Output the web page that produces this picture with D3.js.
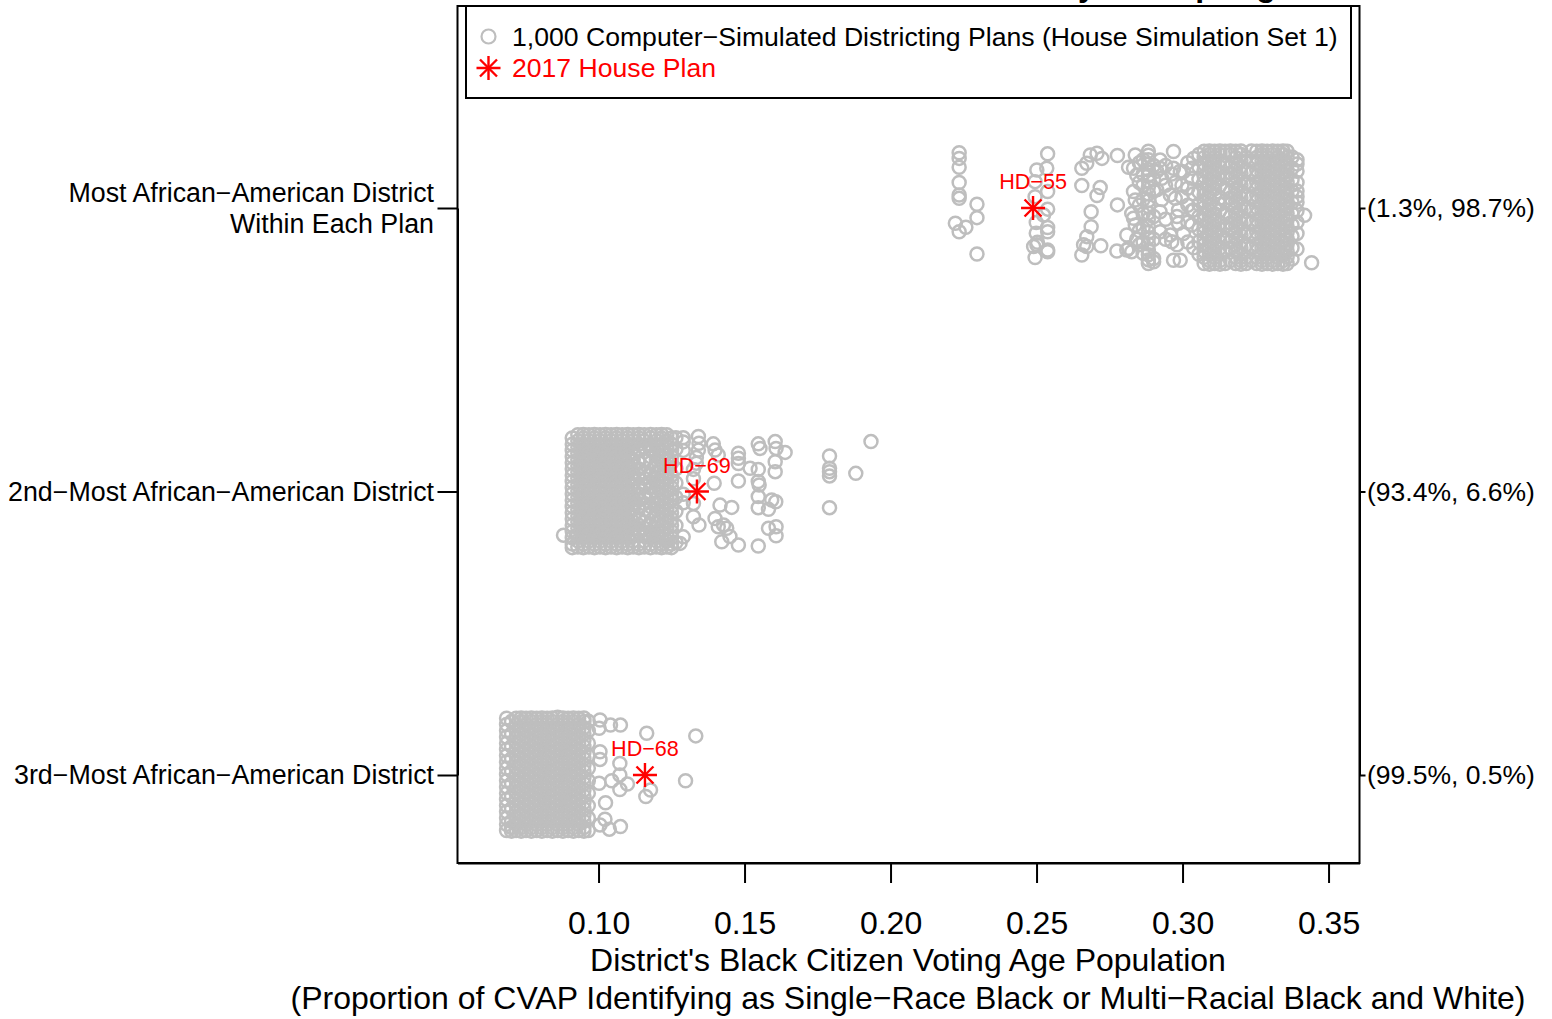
<!DOCTYPE html>
<html>
<head>
<meta charset="utf-8">
<script src="https://cdn.jsdelivr.net/npm/d3@7"></script>
<style>
  html, body { margin: 0; padding: 0; background: #fff; overflow: hidden; }
  text { font-family: "Liberation Sans", Arial, sans-serif; }
</style>
</head>
<body>
<svg id="chart" width="1552" height="1019"></svg>
<script>
// each entry: [black CVAP share, [row jitter in hundredths of a row]]
const mostPlans = [
  [.2222,[-5.4]],[.2235,[19.5,17.5,14.4,9,4.6,3.4,-8.4]],[.2258,[-6.8]],[.2296,[1.3,-3.4,-16.2]],
  [.2490,[-13.6]],[.2495,[9.3,4,-17.5]],[.2499,[-5.1,-8.9]],[.2501,[13.4,-13]],[.2503,[-12.1]],[.2524,[-2.5]],
  [.2535,[14]],[.2538,[19.1,5.8,-.4,-6.9,-8.4,-14.8,-15.4]],
  [.2655,[14,7.9,-16.6]],[.2661,[-13]],[.2672,[15.8,-10.1,-13.6]],[.2684,[18.7]],[.2687,[-1.3,-6.6]],
  [.2707,[19.3,4.4]],[.2718,[7.2]],[.2720,[-13.3]],[.2724,[17.5]],[.2775,[-15.2]],[.2777,[18.5,1.1]],
  [.2809,[-9.5,-14.8]],[.2815,[14.4,-14.2]],[.2826,[-1.9,-15.4]],[.2832,[14,5.8,-3.6]],[.2838,[18.7,2.8,-6]],[.2843,[11.6,-11]],
  [.2852,[16,9,1,-8,-13]],
  [.2865,[17,12,8,3,-2,-7,-12,-16]],
  [.2883,[20,18.6,17,15.4,13.5,11.5,9.6,7.4,5,2.6,.5,-1.8,-4,-6.4,-8.6,-10.5,-12.7,-14.8,-16.5,-18.3,-19.6]],
  [.2901,[15,10,6,-3,-11,-17.8,-19]],
  [.2912,[6.4,13]],[.2923,[16.9,14,-1.3,-8.4]],[.2929,[10.5,3]],[.2942,[15,8,-4,-11]],[.2958,[4.6,-9.5]],[.2963,[-11.9,12]],[.2969,[19.9,14,-18.4]],
  [.2975,[3.4,9]],[.2981,[-13,-3]],[.2986,[-.7,-5.4]],[.2992,[-18.4,13]],[.2998,[4,8]],[.3003,[12.8,-9]],[.3018,[16,7,1,-5,-12]],[.3032,[10.5,-6,14,-1]],[.3038,[17.5,-.7,5,-14]],
  [.3056,[18.9,14.5,10.1,5.7,1.3,-3.1,-7.5,-11.9,-16.3]],
  [.3074,[20,17.8,15.6,13.4,11.2,9,6.8,4.6,2.4,.2,-2,-4.2,-6.4,-8.6,-10.8,-13,-15.2,-17.4,-19.6]],
  [.3092,[20.1,18.9,16.7,14.5,12.3,10.1,7.9,5.7,3.5,1.3,-.9,-3.1,-5.3,-7.5,-9.7,-11.9,-14.1,-16.3,-18.5,-19.8]],
  [.3110,[20,17.8,15.6,13.4,11.2,9,6.8,4.6,.2,-2,-4.2,-6.4,-8.6,-10.8,-13,-15.2,-17.4,-19.6]],
  [.3128,[20.1,18.9,16.7,14.5,12.3,10.1,7.9,3.5,1.3,-.9,-5.3,-7.5,-9.7,-11.9,-14.1,-16.3,-18.5,-19.8]],
  [.3146,[20,15.6,11.2,6.8,2.4,-2,-6.4,-10.8,-15.2,-19.6]],
  [.3164,[20.1,18.9,14.5,12.3,10.1,5.7,3.5,1.3,-3.1,-5.3,-7.5,-11.9,-14.1,-18.5]],
  [.3182,[20,17.8,15.6,13.4,11.2,9,6.8,4.6,2.4,.2,-2,-4.2,-6.4,-8.6,-10.8,-13,-15.2,-17.4,-19.6]],
  [.3200,[20.1,18.9,16.7,14.5,12.3,10.1,7.9,5.7,3.5,1.3,-.9,-3.1,-5.3,-7.5,-9.7,-11.9,-14.1,-16.3,-18.5,-19.8]],
  [.3218,[17.8,13.4,9,4.6,.2,-4.2,-8.6,-13,-17.4,-19.6]],
  [.3236,[20.1,16.7,12.3,7.9,3.5,-.9,-5.3,-9.7,-14.1,-18.5]],
  [.3254,[20,17.8,15.6,13.4,11.2,9,6.8,4.6,2.4,.2,-2,-4.2,-6.4,-8.6,-10.8,-13,-15.2,-17.4,-19.6]],
  [.3272,[20.1,18.9,16.7,14.5,12.3,10.1,7.9,5.7,3.5,1.3,-.9,-3.1,-5.3,-7.5,-9.7,-11.9,-14.1,-16.3,-18.5,-19.8]],
  [.3290,[20,17.8,15.6,13.4,11.2,9,6.8,4.6,2.4,.2,-2,-4.2,-6.4,-8.6,-10.8,-13,-15.2,-17.4,-19.6]],
  [.3308,[20.1,18.9,16.7,14.5,12.3,10.1,7.9,5.7,3.5,1.3,-.9,-3.1,-5.3,-7.5,-9.7,-11.9,-14.1,-16.3,-18.5,-19.8]],
  [.3326,[20,17.8,15.6,13.4,11.2,9,6.8,4.6,2.4,.2,-2,-4.2,-6.4,-8.6,-10.8,-13,-15.2,-17.4,-19.6]],
  [.3344,[20.1,18.9,16.7,14.5,12.3,10.1,7.9,5.7,3.5,1.3,-.9,-3.1,-5.3,-7.5,-9.7,-11.9,-14.1,-16.3,-18.5,-19.8]],
  [.3358,[20,17.8,15.6,13.4,11.2,9,6.8,4.6,2.4,.2,-2,-4.2,-6.4,-8.6,-10.8,-13,-15.2,-17.4,-19.6]],
  [.3375,[18,14,10,6,2,-2,-6,-10,-14,-18]],
  [.3392,[17,15.5,13,9,6,4,2,-1,-5,-9,-14.5]],[.3418,[-2.6]],[.3442,[-19.3]]
];
const secondPlans = [
  [.0880,[-15.4]],
  [.0910,[18.9,16.7,14.5,12.3,10.1,7.9,5.7,3.5,1.3,-.9,-3.1,-5.3,-7.5,-9.7,-11.9,-14.1,-16.3,-18.5,-19.8]],
  [.0929,[20,17.8,15.6,13.4,11.2,9,6.8,4.6,2.4,.2,-2,-4.2,-6.4,-8.6,-10.8,-13,-15.2,-17.4,-19.6]],
  [.0948,[20.1,18.9,16.7,14.5,12.3,10.1,7.9,5.7,3.5,1.3,-.9,-3.1,-5.3,-7.5,-9.7,-11.9,-14.1,-16.3,-18.5,-19.8]],
  [.0967,[20,17.8,15.6,13.4,11.2,9,6.8,4.6,2.4,.2,-2,-4.2,-6.4,-8.6,-10.8,-13,-15.2,-17.4,-19.6]],
  [.0986,[20.1,18.9,16.7,14.5,12.3,10.1,7.9,5.7,3.5,1.3,-.9,-3.1,-5.3,-7.5,-9.7,-11.9,-14.1,-16.3,-18.5,-19.8]],
  [.1005,[20,17.8,15.6,13.4,11.2,9,6.8,4.6,2.4,.2,-2,-4.2,-6.4,-8.6,-10.8,-13,-15.2,-17.4,-19.6]],
  [.1024,[20.1,18.9,16.7,14.5,12.3,10.1,7.9,5.7,3.5,1.3,-.9,-3.1,-5.3,-7.5,-9.7,-11.9,-14.1,-16.3,-18.5,-19.8]],
  [.1043,[20,17.8,15.6,13.4,11.2,9,6.8,4.6,2.4,.2,-2,-4.2,-6.4,-8.6,-10.8,-13,-15.2,-17.4,-19.6]],
  [.1062,[20.1,18.9,16.7,14.5,12.3,10.1,7.9,5.7,3.5,1.3,-.9,-3.1,-5.3,-7.5,-9.7,-11.9,-14.1,-16.3,-18.5,-19.8]],
  [.1081,[20,17.8,15.6,13.4,11.2,9,6.8,4.6,2.4,.2,-2,-4.2,-6.4,-8.6,-10.8,-13,-15.2,-17.4,-19.6]],
  [.1100,[20.1,18.9,16.7,14.5,12.3,10.1,7.9,5.7,3.5,1.3,-.9,-3.1,-5.3,-7.5,-9.7,-11.9,-14.1,-16.3,-18.5,-19.8]],
  [.1119,[20,17.8,15.6,13.4,11.2,9,6.8,4.6,2.4,.2,-2,-4.2,-6.4,-8.6,-10.8,-13,-15.2,-17.4,-19.6]],
  [.1138,[20.1,18.9,16.7,14.5,10.1,7.9,5.7,1.3,-.9,-3.1,-5.3,-9.7,-11.9,-14.1,-18.5,-19.8]],
  [.1157,[20,17.8,15.6,11.2,6.8,4.6,2.4,-2,-4.2,-6.4,-10.8,-13,-15.2,-17.4,-19.6]],
  [.1178,[20.1,18.9,16.7,14.5,12.3,10.1,5.7,3.5,1.3,-.9,-5.3,-7.5,-11.9,-14.1,-16.3,-18.5,-19.8]],
  [.1198,[20,17.8,15.6,13.4,11.2,9,6.8,4.6,2.4,.2,-2,-4.2,-6.4,-8.6,-10.8,-13,-15.2,-17.4,-19.6]],
  [.1216,[20.1,18.9,16.7,14.5,12.3,10.1,7.9,5.7,3.5,1.3,-.9,-3.1,-5.3,-7.5,-9.7,-11.9,-14.1,-16.3,-18.5,-19.8]],
  [.1234,[20,17.8,15.6,13.4,11.2,9,6.8,4.6,2.4,.2,-2,-4.2,-6.4,-8.6,-10.8,-13,-15.2,-17.4,-19.6]],
  [.1250,[18.9,16.7,14.5,12.3,10.1,5.7,3.5,1.3,-.9,-3.1,-5.3,-7.5,-9.7,-11.9,-14.1,-16.3,-18.5,-19.8]],
  [.1265,[19,15,8,3,-2,-7,-12,-18]],
  [.1279,[-18.3]],[.1290,[19,17.5,14.5,-1,-4,-16]],[.1325,[7.8,4.5,-4.2,-8.9]],[.1335,[10,12]],
  [.1342,[19.4,14.6]],[.1344,[17,-11.8]],[.1393,[16.8]],[.1396,[2.9]],[.1399,[14.6,-9.5]],[.1410,[12.9,-12.4]],
  [.1416,[-4.8]],[.1422,[-17.7]],[.1428,[-11.8]],[.1439,[-13]],[.1450,[-15.9]],[.1456,[-5.6]],
  [.1479,[13.5,11.7,9.9,3.7,-18.9]],[.1519,[8.2]],[.1547,[16.8,7.8,3.5,-1.8,-5.7,-19.2]],[.1550,[2.3]],[.1553,[15.2]],
  [.1582,[-6.3,-13]],[.1593,[-3]],[.1605,[17.6,10.5,7]],[.1607,[-3.6]],[.1608,[15.2,-12.4,-15.6]],[.1639,[13.8]],
  [.1791,[12.5,8.2,7,5.5,-5.7]],[.1881,[6.4]],[.1933,[17.6]]
];
const thirdPlans = [
  [.0685,[20,17.8,15.6,13.4,11.2,9,6.8,4.6,2.4,.2,-2,-4.2,-6.4,-8.6,-10.8,-13,-15.2,-17.4,-19.6]],
  [.0702,[18.9,14.5,10.1,5.7,1.3,-3.1,-7.5,-11.9,-16.3,-18.5,-19.8]],
  [.0718,[20,17.8,15.6,13.4,11.2,9,6.8,4.6,2.4,.2,-2,-4.2,-6.4,-8.6,-10.8,-13,-15.2,-17.4,-19.6]],
  [.0735,[20.1,18.9,16.7,14.5,12.3,10.1,7.9,5.7,3.5,1.3,-.9,-3.1,-5.3,-7.5,-9.7,-11.9,-14.1,-16.3,-18.5,-19.8]],
  [.0752,[20,17.8,15.6,13.4,11.2,9,6.8,4.6,2.4,.2,-2,-4.2,-6.4,-8.6,-10.8,-13,-15.2,-17.4,-19.6]],
  [.0770,[20.1,18.9,16.7,14.5,12.3,10.1,7.9,5.7,3.5,1.3,-.9,-3.1,-5.3,-7.5,-9.7,-11.9,-14.1,-16.3,-18.5,-19.8]],
  [.0788,[20,17.8,15.6,13.4,11.2,9,6.8,4.6,2.4,.2,-2,-4.2,-6.4,-8.6,-10.8,-13,-15.2,-17.4,-19.6]],
  [.0806,[20.1,18.9,16.7,14.5,12.3,10.1,7.9,5.7,3.5,1.3,-.9,-3.1,-5.3,-7.5,-9.7,-11.9,-14.1,-16.3,-18.5,-19.8]],
  [.0824,[20,17.8,15.6,13.4,11.2,9,6.8,4.6,2.4,.2,-2,-4.2,-6.4,-8.6,-10.8,-13,-15.2,-17.4,-19.6]],
  [.0842,[20.1,18.9,16.7,14.5,12.3,10.1,7.9,5.7,3.5,1.3,-.9,-3.1,-5.3,-7.5,-9.7,-11.9,-14.1,-16.3,-18.5,-19.8]],
  [.0860,[20.4,17.8,15.6,13.4,11.2,9,6.8,4.6,2.4,.2,-2,-4.2,-6.4,-8.6,-10.8,-13,-15.2,-17.4,-19.6]],
  [.0878,[20.1,18.9,16.7,14.5,12.3,10.1,7.9,5.7,3.5,1.3,-.9,-3.1,-5.3,-7.5,-9.7,-11.9,-14.1,-16.3,-18.5,-19.8]],
  [.0896,[20,17.8,15.6,13.4,11.2,9,6.8,4.6,2.4,.2,-2,-4.2,-6.4,-8.6,-10.8,-13,-15.2,-17.4,-19.6]],
  [.0914,[20.1,18.9,16.7,14.5,12.3,10.1,7.9,5.7,3.5,1.3,-.9,-3.1,-5.3,-7.5,-9.7,-11.9,-14.1,-16.3,-18.5,-19.8]],
  [.0932,[20,17.8,15.6,13.4,11.2,9,6.8,4.6,2.4,.2,-2,-4.2,-6.4,-8.6,-10.8,-13,-15.2,-17.4,-19.6]],
  [.0950,[20.1,18.9,16.7,14.5,12.3,10.1,7.9,5.7,3.5,1.3,-.9,-3.1,-5.3,-7.5,-9.7,-11.9,-14.1,-16.3,-18.5,-19.8]],
  [.0965,[19,15.6,11.2,6.8,2.4,-2,-6.4,-10.8,-15.2,-19.6]],
  [.1002,[16.5,-2.9]],[.1005,[19.4,8.2,5.5,-17.6]],[.1022,[-15.6]],[.1024,[-9.8]],[.1037,[-19.1]],
  [.1041,[17.6]],[.1045,[-2]],[.1073,[4.1,0,-5.1]],[.1075,[17.6,-18.2]],[.1099,[-3.2]],
  [.1162,[-7.6]],[.1165,[14.7]],[.1178,[-5.3]],[.1298,[-2]],[.1333,[13.8]]
];
const rowLabels = [
  { row: 3, lines: ['Most African\u2212American District', 'Within Each Plan'], right: '(1.3%, 98.7%)' },
  { row: 2, lines: ['2nd\u2212Most African\u2212American District'], right: '(93.4%, 6.6%)' },
  { row: 1, lines: ['3rd\u2212Most African\u2212American District'], right: '(99.5%, 0.5%)' }
];
const enactedPlan = [
  { row: 3, share: .2488, name: 'HD\u221255' },
  { row: 2, share: .1337, name: 'HD\u221269' },
  { row: 1, share: .1159, name: 'HD\u221268' }
];
const xTicks = [.10, .15, .20, .25, .30, .35];
const xTitle = ["District's Black Citizen Voting Age Population",
  '(Proportion of CVAP Identifying as Single\u2212Race Black or Multi\u2212Racial Black and White)'];
const legendText = ['1,000 Computer\u2212Simulated Districting Plans (House Simulation Set 1)', '2017 House Plan'];

const GRAY = '#bebebe', RED = '#ff0000';
const LEFT = 457.5, RIGHT = 1359.5, TOP = 6, BOTTOM = 863;

const svg = d3.select('#chart');

const x = d3.scaleLinear().domain([.0517, .3606]).range([LEFT, RIGHT]);
const y = d3.scaleLinear().domain([1, 3]).range([775, 208]);

// cut off title, only the descenders reach the page
svg.selectAll('.title-bit')
  .data([['y', 1087], ['p', 1205], ['g', 1266]])
  .enter().append('text')
  .attr('class', 'title-bit')
  .attr('x', d => d[1])
  .attr('y', -4)
  .attr('text-anchor', 'middle')
  .attr('font-size', 32)
  .attr('font-weight', 'bold')
  .text(d => d[0]);

// simulated plans
[[3, mostPlans], [2, secondPlans], [1, thirdPlans]].forEach(([row, cols]) => {
  const pts = cols.flatMap(c => c[1].map(j => [c[0], row + j / 100]));
  svg.append('g').selectAll('circle')
    .data(pts)
    .enter().append('circle')
    .attr('cx', d => x(d[0]))
    .attr('cy', d => y(d[1]))
    .attr('r', 6.5)
    .attr('fill', 'none')
    .attr('stroke', GRAY)
    .attr('stroke-width', 2.5);
});

const star = d3.symbol().size(190);
function drawStar(g) {
  g.append('path').attr('d', star.type(d3.symbolPlus)());
  g.append('path').attr('d', star.type(d3.symbolTimes)());
  g.selectAll('path').attr('fill', 'none').attr('stroke', RED).attr('stroke-width', 2.4);
}

const enacted = svg.selectAll('.enacted')
  .data(enactedPlan)
  .enter().append('g')
  .attr('class', 'enacted')
  .attr('transform', d => `translate(${x(d.share)},${y(d.row)})`);
enacted.each(function () { drawStar(d3.select(this)); });
enacted.append('text')
  .attr('y', -19)
  .attr('text-anchor', 'middle')
  .attr('font-size', 21.6)
  .attr('fill', RED)
  .text(d => d.name);

// box
svg.append('rect')
  .attr('x', LEFT).attr('y', TOP)
  .attr('width', RIGHT - LEFT).attr('height', BOTTOM - TOP)
  .attr('fill', 'none').attr('stroke', '#000').attr('stroke-width', 2);

// axes
const xAxis = svg.append('g')
  .attr('transform', `translate(0,${BOTTOM})`)
  .call(d3.axisBottom(x).tickValues(xTicks).tickFormat(d3.format('.2f')).tickSize(20).tickSizeOuter(0).tickPadding(28));
xAxis.selectAll('text').attr('font-size', 32).attr('font-family', '"Liberation Sans"').attr('fill', '#000');

const yLeft = svg.append('g')
  .attr('transform', `translate(${LEFT},0)`)
  .call(d3.axisLeft(y).tickValues(rowLabels.map(d => d.row)).tickFormat('').tickSize(20).tickSizeOuter(0));
const yRight = svg.append('g')
  .attr('transform', `translate(${RIGHT},0)`)
  .call(d3.axisRight(y).tickValues(rowLabels.map(d => d.row)).tickFormat('').tickSize(6).tickSizeOuter(0));
[xAxis, yLeft, yRight].forEach(a => {
  a.selectAll('line').attr('stroke', '#000').attr('stroke-width', 2);
  a.select('.domain').attr('stroke-width', 2);
});

rowLabels.forEach(d => {
  d.lines.forEach((line, i) => {
    svg.append('text')
      .attr('x', 434)
      .attr('y', y(d.row) + (d.lines.length > 1 ? -6 + i * 31 : 9))
      .attr('text-anchor', 'end')
      .attr('font-size', 26.8)
      .text(line);
  });
  svg.append('text')
    .attr('x', 1367)
    .attr('y', y(d.row) + 9)
    .attr('font-size', 26.5)
    .text(d.right);
});

xTitle.forEach((line, i) => {
  svg.append('text')
    .attr('x', 908)
    .attr('y', 971 + i * 38)
    .attr('text-anchor', 'middle')
    .attr('font-size', 32)
    .text(line);
});

// legend
svg.append('rect')
  .attr('x', 466).attr('y', TOP).attr('width', 885).attr('height', 92)
  .attr('fill', '#fff').attr('stroke', '#000').attr('stroke-width', 2);
svg.append('circle')
  .attr('cx', 488.5).attr('cy', 36.5).attr('r', 7)
  .attr('fill', 'none').attr('stroke', GRAY).attr('stroke-width', 2.2);
drawStar(svg.append('g').attr('transform', 'translate(488.5,68)'));
svg.selectAll('.legend-text')
  .data(legendText)
  .enter().append('text')
  .attr('class', 'legend-text')
  .attr('x', 512)
  .attr('y', (d, i) => 46 + i * 31)
  .attr('font-size', 26.6)
  .attr('fill', (d, i) => i ? RED : '#000')
  .text(d => d);
</script>
</body>
</html>
